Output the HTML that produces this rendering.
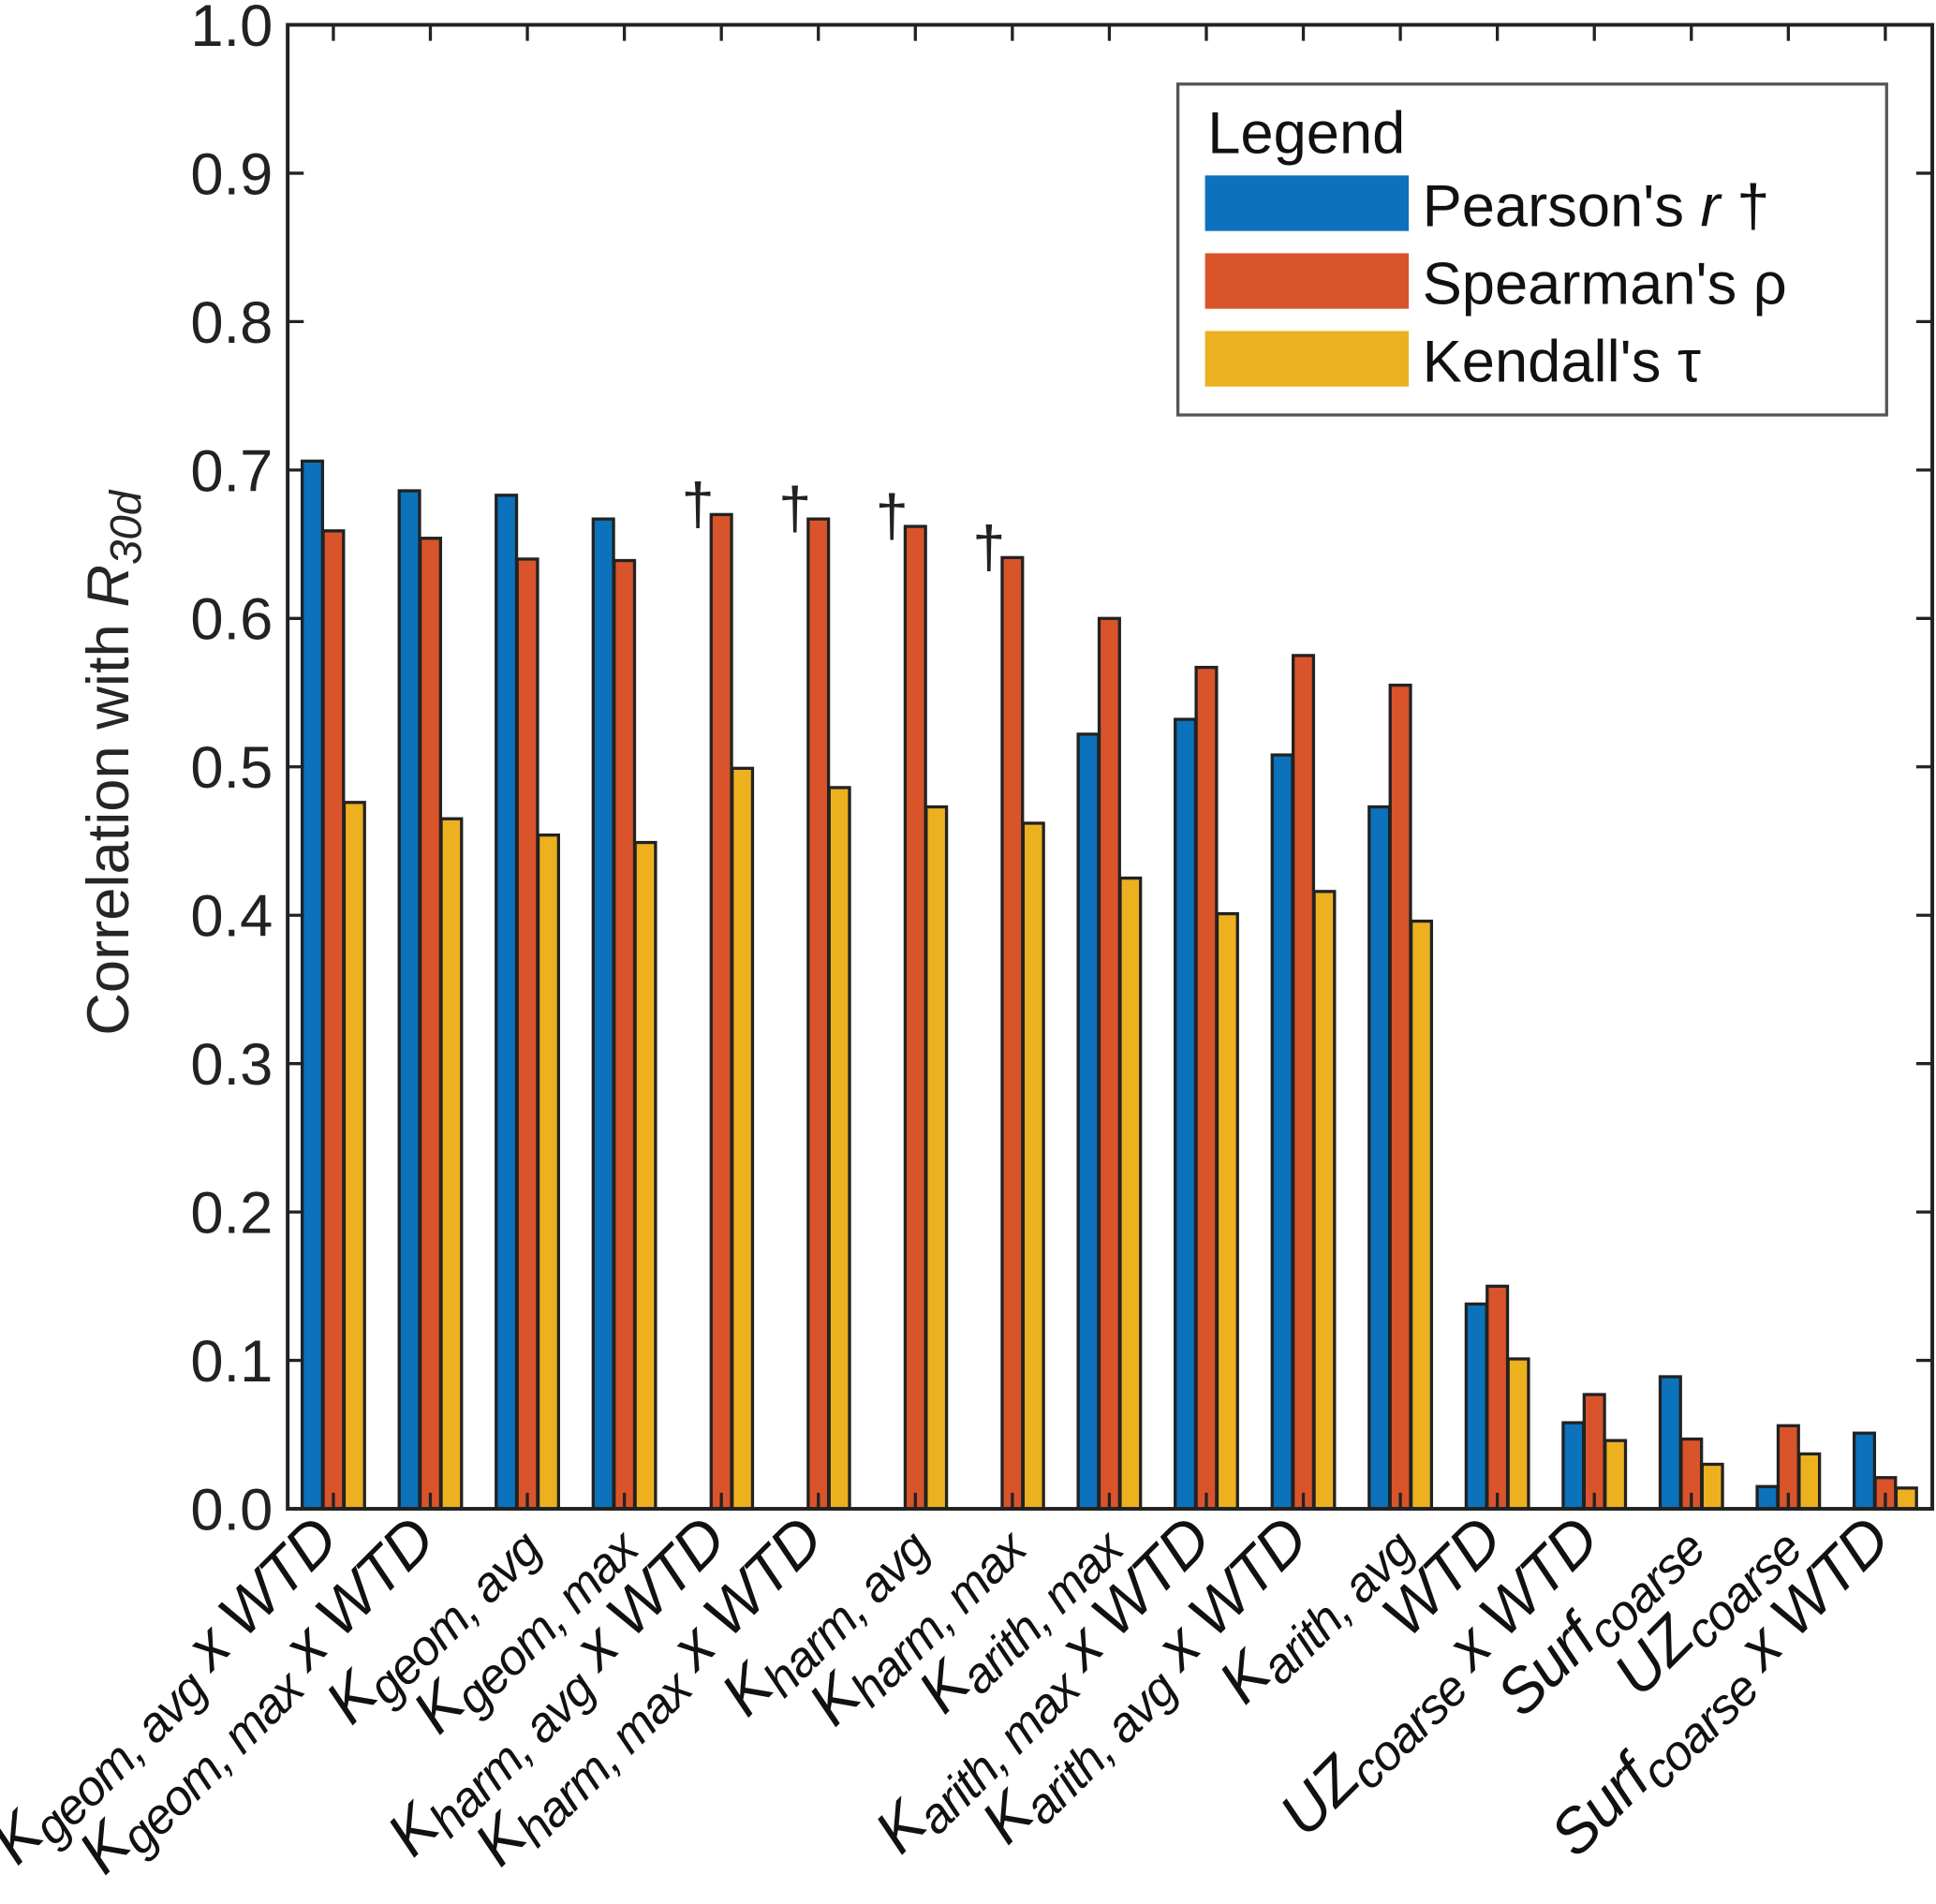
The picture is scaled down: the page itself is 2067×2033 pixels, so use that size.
<!DOCTYPE html>
<html><head><meta charset="utf-8"><style>
html,body{margin:0;padding:0;background:#fff;}
svg{display:block;font-family:"Liberation Sans",Arial,sans-serif;}
</style></head><body>
<svg id="chart" width="2067" height="2033" viewBox="0 0 1568 1542" xmlns="http://www.w3.org/2000/svg">
<g id="marks"></g>
<g id="axes"></g>
<g id="labels"></g>
<text transform="translate(104,618) rotate(-90)" text-anchor="middle" font-size="48" fill="#262626">Correlation with <tspan font-style="italic">R</tspan><tspan font-style="italic" font-size="36" dy="10">30d</tspan></text>
<g>
  <rect x="954" y="68" width="574" height="268" fill="#fff" stroke="#555" stroke-width="2.5"/>
  <text x="978" y="124" font-size="48" fill="#111">Legend</text>
  <rect x="976" y="142" width="165" height="45" fill="#0b72bb"/>
  <text x="1152" y="183" font-size="48" fill="#111">Pearson's <tspan font-style="italic">r</tspan> †</text>
  <rect x="976" y="205" width="165" height="45" fill="#d9542a"/>
  <text x="1152" y="246" font-size="48" fill="#111">Spearman's ρ</text>
  <rect x="976" y="268" width="165" height="45" fill="#edb120"/>
  <text x="1152" y="309" font-size="48" fill="#111">Kendall's τ</text>
</g>
</svg>
<script>
const labelsMain = ["K","K","K","K","K","K","K","K","K","K","K","K","WTD","UZ","Surf","UZ","Surf"];
const labelsSub = ["geom, avg","geom, max","geom, avg","geom, max","harm, avg","harm, max","harm, avg","harm, max","arith, max","arith, max","arith, avg","arith, avg","","coarse","coarse","coarse","coarse"];
const labelsTail = [" x WTD"," x WTD","",""," x WTD"," x WTD","","",""," x WTD"," x WTD","",""," x WTD","",""," x WTD"];
const pearson = [0.706,0.686,0.683,0.667,null,null,null,null,0.522,0.532,0.508,0.473,0.138,0.058,0.089,0.015,0.051];
const spearman = [0.659,0.654,0.640,0.639,0.670,0.667,0.662,0.641,0.600,0.567,0.575,0.555,0.150,0.077,0.047,0.056,0.021];
const kendall = [0.476,0.465,0.454,0.449,0.499,0.486,0.473,0.462,0.425,0.401,0.416,0.396,0.101,0.046,0.030,0.037,0.014];
const yTicks = [0,0.1,0.2,0.3,0.4,0.5,0.6,0.7,0.8,0.9,1.0];

const NS="http://www.w3.org/2000/svg";
const L=233,R=1565,T=20,B=1222;
const yScale=v=>B-(B-T)*v;
const xScale=i=>270+i*78.56;
const bw=16.5, off=17;
function mk(tag,attrs,parent){const e=document.createElementNS(NS,tag);for(const k in attrs)e.setAttribute(k,attrs[k]);parent.appendChild(e);return e;}
const marks=document.getElementById('marks'),axes=document.getElementById('axes'),labs=document.getElementById('labels');
const series=[[pearson,"#0b72bb",-1,"pearson"],[spearman,"#d9542a",0,"spearman"],[kendall,"#edb120",1,"kendall"]];
for(let i=0;i<labelsMain.length;i++){
  const cx=xScale(i);
  for(const s of series){
    const v=s[0][i];
    if(v===null){
      const d=mk('text',{x:cx-off-2,y:yScale(spearman[i])+8,'text-anchor':'middle','font-size':'48',fill:'#222'},marks);
      
      
      d.textContent='†';
      continue;
    }
    const r=mk('rect',{x:cx+s[2]*off-bw/2,y:yScale(v),width:bw,height:B-yScale(v),fill:s[1],stroke:'#222','stroke-width':'2.5'},marks);
    
    
  }
  const t1=mk('line',{x1:cx,x2:cx,y1:B,y2:B-13,stroke:'#222','stroke-width':'2.5'},axes);
  
  
  const t2=mk('line',{x1:cx,x2:cx,y1:T,y2:T+13,stroke:'#222','stroke-width':'2.5'},axes);
  
  
  const tx=mk('text',{transform:`translate(${cx+6},${B+28}) rotate(-45)`,'text-anchor':'end','font-size':'50','font-style':'italic','letter-spacing':'-1',fill:'#111'},labs);
  
  
  let h=`<tspan>${labelsMain[i]}</tspan>`;
  if(labelsSub[i]) h+=`<tspan font-size="40" dy="10">${labelsSub[i]}</tspan>`;
  if(labelsTail[i].trim()) h+=`<tspan dy="${labelsSub[i]?-10:0}">${labelsTail[i]}</tspan>`;
  tx.innerHTML=h;
}
for(const v of yTicks){
  const y=yScale(v);
  const a=mk('line',{x1:L,x2:L+13,y1:y,y2:y,stroke:'#222','stroke-width':'2.5'},axes);
  
  
  const b=mk('line',{x1:R,x2:R-13,y1:y,y2:y,stroke:'#222','stroke-width':'2.5'},axes);
  
  
  const t=mk('text',{x:L-12,y:y+17,'text-anchor':'end','font-size':'48',fill:'#222'},axes);
  
  
  t.textContent=v.toFixed(1);
}
const fr=mk('rect',{x:L,y:T,width:R-L,height:B-T,fill:'none',stroke:'#222','stroke-width':'3'},axes);


</script>
</body></html>
